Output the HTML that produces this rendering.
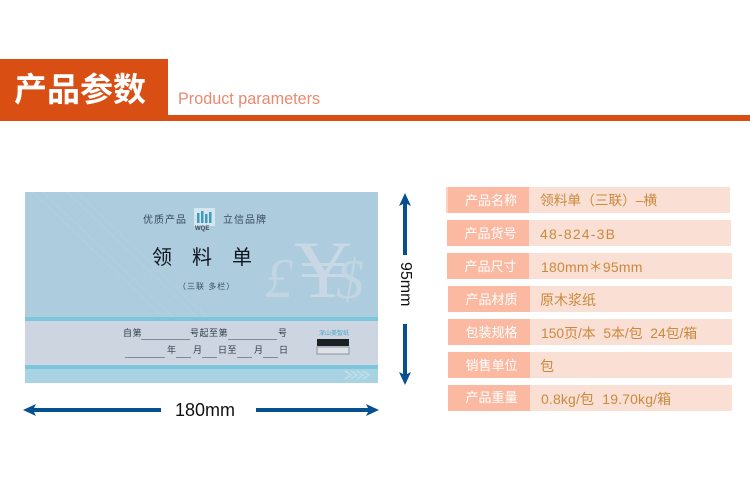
<!DOCTYPE html>
<html><head><meta charset="utf-8">
<style>
html,body{margin:0;padding:0;background:#fff}
body{width:750px;height:484px;position:relative;overflow:hidden;font-family:"Liberation Sans","Noto Sans CJK SC",sans-serif}
.a{position:absolute;white-space:nowrap;line-height:1}
.r{position:absolute;height:26px;background:#fadfd4;width:284px}
.r b{position:absolute;left:0;top:0;height:26px;width:82px;background:#fbb9a1;color:#fff;font-weight:400;font-size:13px;line-height:28px;text-align:center;text-indent:5px}
.r span{position:absolute;left:92px;top:0;line-height:28px;font-size:14px;color:#c98a3e;white-space:pre}
.c{color:#38495a}
.f{color:#2f3c4a;font-size:9px;letter-spacing:.5px}
.l{position:absolute;height:1px;background:#7d8a98}
</style></head><body>
<div class="a" style="left:0;top:59px;width:168px;height:62px;background:#d94e13"></div>
<div class="a" style="left:0;top:115px;width:750px;height:6px;background:#d94e13"></div>
<div class="a" style="left:14px;top:73px;font-size:33px;font-weight:700;color:#fff">产品参数</div>
<div class="a" style="left:178px;top:91px;font-size:16.2px;color:#e98a70">Product parameters</div>

<div class="a" style="left:25px;top:192px;width:353px;height:191px;background:#adcddf;overflow:hidden">
 <svg width="353" height="191" style="position:absolute;left:0;top:0">
  <g stroke="#b9d8e6" stroke-width="1" stroke-dasharray="1 2" fill="none">
   <line x1="8" y1="0" x2="138" y2="125"/><line x1="18" y1="0" x2="148" y2="125"/><line x1="42" y1="0" x2="172" y2="125"/>
   <line x1="52" y1="0" x2="182" y2="125"/>
   <line x1="30" y1="191" x2="50" y2="177"/><line x1="45" y1="191" x2="65" y2="177"/><line x1="60" y1="191" x2="80" y2="177"/>
  </g>
  <rect x="0" y="125" width="353" height="4" fill="#7cc6de"/>
  <rect x="0" y="129" width="353" height="44" fill="#cdd6e0"/>
  <rect x="0" y="173" width="353" height="4" fill="#7cc6de"/>
  <rect x="0" y="177" width="353" height="14" fill="#a9d3e3"/>
  <g stroke="#bfe0ea" stroke-width="1.5" fill="none">
   <path d="M320 179l6 4-6 4M326 179l6 4-6 4M332 179l6 4-6 4M338 179l6 4-6 4"/>
  </g>
  <text x="240" y="105" font-family="Liberation Serif" font-size="56" font-style="italic" fill="#c2d5e2">£</text>
  <text x="269" y="105" font-family="Liberation Serif" font-size="82" fill="#c9d8e4" textLength="58" lengthAdjust="spacingAndGlyphs">Y</text>
  <rect x="277" y="71" width="42" height="3" fill="#c9d8e4"/>
  <rect x="277" y="82" width="42" height="3" fill="#c9d8e4"/>
  <text x="311" y="106" font-family="Liberation Serif" font-size="56" font-style="italic" fill="#c2d5e2">$</text>
  <rect x="169" y="16" width="21" height="18" fill="#d6e6ee"/>
  <g fill="#3f9cc0"><rect x="172" y="21" width="2.5" height="10"/><rect x="176" y="19" width="2.5" height="12"/><rect x="180" y="22" width="2.5" height="9"/><rect x="184" y="20" width="2.5" height="11"/></g>
  <rect x="292" y="147" width="32" height="7" fill="#1c1f24"/>
  <rect x="292" y="155" width="32" height="7" fill="#dfe3e8" stroke="#6a7480" stroke-width=".7"/>
 </svg>
 <div class="a c" style="left:118px;top:24px;font-size:10px;letter-spacing:1px">优质产品</div>
 <div class="a c" style="left:170px;top:34px;font-size:6px;font-weight:700">WQE</div>
 <div class="a c" style="left:198px;top:24px;font-size:10px;letter-spacing:1px">立信品牌</div>
 <div class="a" style="left:127px;top:56px;font-size:20px;letter-spacing:20px;color:#10161f">领料单</div>
 <div class="a c" style="left:153px;top:91px;font-size:8px;letter-spacing:1px">（三联 多栏）</div>
 <div class="a f" style="left:98px;top:137px">自第</div>
 <div class="l" style="left:116px;top:147px;width:49px"></div>
 <div class="a f" style="left:165px;top:137px">号起至第</div>
 <div class="l" style="left:203px;top:147px;width:49px"></div>
 <div class="a f" style="left:253px;top:137px">号</div>
 <div class="l" style="left:100px;top:165px;width:40px"></div>
 <div class="a f" style="left:142px;top:154px">年</div>
 <div class="l" style="left:151px;top:165px;width:15px"></div>
 <div class="a f" style="left:168px;top:154px">月</div>
 <div class="l" style="left:177px;top:165px;width:15px"></div>
 <div class="a f" style="left:193px;top:154px">日至</div>
 <div class="l" style="left:212px;top:165px;width:15px"></div>
 <div class="a f" style="left:229px;top:154px">月</div>
 <div class="l" style="left:238px;top:165px;width:15px"></div>
 <div class="a f" style="left:254px;top:154px">日</div>
 <div class="a" style="left:294px;top:139px;font-size:6px;color:#4aa5c8">深山美智纸</div>
</div>

<svg class="a" width="750" height="484" style="left:0;top:0">
 <g fill="#07508f">
  <rect x="32" y="408" width="129" height="4"/><polygon points="23,410 36,404 33,410 36,416"/>
  <rect x="256" y="408" width="114" height="4"/><polygon points="379,410 366,404 369,410 366,416"/>
  <rect x="403" y="203" width="4" height="52"/><polygon points="405,193 399,206 405,203 411,206"/>
  <rect x="403" y="324" width="4" height="52"/><polygon points="405,385 399,372 405,375 411,372"/>
 </g>
</svg>
<div class="a" style="left:175px;top:401px;font-size:18px;color:#111">180mm</div>
<div class="a" style="left:383px;top:276px;font-size:16px;color:#111;transform:rotate(90deg);width:44px;text-align:center;height:16px;line-height:16px">95mm</div>

<div class="r" style="left:446px;top:187px"><b style="width:83px;border-left:2px solid #fcd3c3;box-sizing:border-box">产品名称</b><span style="left:94px;font-size:13.7px">领料单（三联）–横</span></div>
<div class="r" style="left:447px;top:220px"><b>产品货号</b><span style="left:93px;letter-spacing:1.2px">48-824-3B</span></div>
<div class="r" style="left:447px;top:253px;width:285px"><b>产品尺寸</b><span style="left:94px;letter-spacing:.2px">180mm＊95mm</span></div>
<div class="r" style="left:448px;top:286px"><b>产品材质</b><span>原木浆纸</span></div>
<div class="r" style="left:448px;top:319px"><b>包装规格</b><span style="left:93px;font-size:13.85px">150页/本  5本/包  24包/箱</span></div>
<div class="r" style="left:448px;top:352px"><b>销售单位</b><span>包</span></div>
<div class="r" style="left:448px;top:385px"><b style="line-height:26px">产品重量</b><span style="left:93px;letter-spacing:.15px">0.8kg/包  19.70kg/箱</span></div>
</body></html>
